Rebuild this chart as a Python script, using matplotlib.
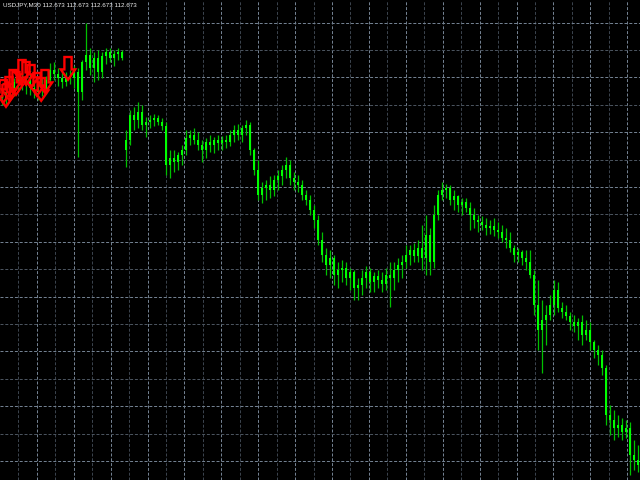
import numpy as np
import matplotlib
matplotlib.use("Agg")
import matplotlib.pyplot as plt
from matplotlib.patches import Polygon

symbol = "USDJPY,M30"
last_quote = ["112.673", "112.673", "112.673", "112.673"]

opens = [114.525, 114.510, 114.540, 114.560, 114.590, 114.610, 114.580, 114.600, 114.560, 114.540,
         114.570, 114.550, 114.600, 114.650, 114.630, 114.610, 114.590, 114.620, 114.610, 114.640,
         114.540, 114.690, 114.725, 114.660, 114.710, 114.640, 114.720, 114.740, 114.710, 114.730,
         114.740, 114.250, 114.300, 114.425, 114.400, 114.440, 114.375, 114.390, 114.400, 114.410,
         114.390, 114.370, 114.175, 114.210, 114.190, 114.225, 114.250, 114.310, 114.325, 114.300,
         114.275, 114.250, 114.290, 114.275, 114.300, 114.285, 114.300, 114.290, 114.325, 114.350,
         114.325, 114.360, 114.375, 114.250, 114.150, 114.025, 114.060, 114.075, 114.050, 114.100,
         114.120, 114.150, 114.175, 114.110, 114.090, 114.075, 114.025, 114.000, 113.950, 113.900,
         113.800, 113.725, 113.675, 113.710, 113.625, 113.650, 113.660, 113.610, 113.640, 113.560,
         113.575, 113.610, 113.640, 113.590, 113.620, 113.600, 113.580, 113.625, 113.610, 113.650,
         113.675, 113.690, 113.725, 113.750, 113.720, 113.760, 113.710, 113.825, 113.690, 113.925,
         114.025, 114.050, 114.060, 114.000, 114.020, 113.975, 113.990, 113.960, 113.925, 113.900,
         113.890, 113.875, 113.860, 113.870, 113.850, 113.840, 113.810, 113.800, 113.760, 113.725,
         113.740, 113.710, 113.690, 113.625, 113.475, 113.350, 113.400, 113.425, 113.475, 113.550,
         113.460, 113.440, 113.420, 113.390, 113.370, 113.390, 113.325, 113.350, 113.290, 113.250,
         113.225, 113.160, 112.925, 112.900, 112.860, 112.875, 112.840, 112.860, 112.725, 112.700]
highs = [114.560, 114.550, 114.575, 114.610, 114.630, 114.640, 114.620, 114.630, 114.600, 114.590,
         114.610, 114.620, 114.685, 114.690, 114.660, 114.650, 114.640, 114.650, 114.670, 114.660,
         114.700, 114.885, 114.760, 114.740, 114.750, 114.740, 114.760, 114.760, 114.750, 114.760,
         114.750, 114.350, 114.450, 114.465, 114.490, 114.475, 114.415, 114.425, 114.430, 114.425,
         114.410, 114.390, 114.250, 114.250, 114.240, 114.275, 114.350, 114.350, 114.360, 114.340,
         114.300, 114.310, 114.325, 114.315, 114.325, 114.320, 114.325, 114.350, 114.375, 114.380,
         114.375, 114.400, 114.390, 114.260, 114.200, 114.090, 114.100, 114.120, 114.125, 114.150,
         114.175, 114.215, 114.200, 114.140, 114.125, 114.100, 114.050, 114.025, 113.975, 113.925,
         113.840, 113.760, 113.750, 113.725, 113.690, 113.700, 113.690, 113.660, 113.650, 113.610,
         113.650, 113.670, 113.660, 113.640, 113.650, 113.640, 113.660, 113.690, 113.690, 113.710,
         113.725, 113.775, 113.775, 113.785, 113.800, 113.875, 113.925, 113.860, 113.975, 114.050,
         114.090, 114.080, 114.075, 114.050, 114.025, 114.010, 114.010, 113.990, 113.960, 113.925,
         113.920, 113.910, 113.900, 113.910, 113.890, 113.875, 113.860, 113.840, 113.775, 113.760,
         113.750, 113.750, 113.750, 113.650, 113.600, 113.500, 113.475, 113.525, 113.600, 113.590,
         113.490, 113.475, 113.440, 113.425, 113.410, 113.425, 113.400, 113.390, 113.300, 113.275,
         113.250, 113.175, 112.975, 112.950, 112.925, 112.910, 112.900, 112.890, 112.800, 112.775]
lows = [114.475, 114.480, 114.500, 114.520, 114.540, 114.550, 114.530, 114.525, 114.510, 114.500,
        114.520, 114.530, 114.580, 114.600, 114.570, 114.560, 114.570, 114.580, 114.560, 114.215,
        114.500, 114.650, 114.625, 114.590, 114.600, 114.610, 114.680, 114.690, 114.670, 114.700,
        114.700, 114.165, 114.275, 114.350, 114.360, 114.350, 114.315, 114.360, 114.370, 114.375,
        114.350, 114.125, 114.110, 114.140, 114.150, 114.175, 114.225, 114.275, 114.280, 114.250,
        114.190, 114.210, 114.240, 114.235, 114.250, 114.250, 114.260, 114.270, 114.290, 114.300,
        114.290, 114.325, 114.225, 114.125, 114.000, 113.985, 114.000, 114.010, 114.020, 114.050,
        114.075, 114.110, 114.075, 114.050, 114.040, 114.000, 113.975, 113.925, 113.860, 113.775,
        113.690, 113.625, 113.610, 113.575, 113.560, 113.590, 113.575, 113.550, 113.500, 113.500,
        113.525, 113.560, 113.540, 113.540, 113.560, 113.540, 113.550, 113.465, 113.550, 113.590,
        113.610, 113.660, 113.675, 113.690, 113.690, 113.650, 113.625, 113.625, 113.660, 113.900,
        114.000, 114.010, 113.975, 113.950, 113.940, 113.925, 113.940, 113.850, 113.860, 113.840,
        113.850, 113.825, 113.830, 113.820, 113.810, 113.790, 113.760, 113.740, 113.690, 113.690,
        113.675, 113.650, 113.610, 113.425, 113.250, 113.135, 113.275, 113.400, 113.425, 113.440,
        113.410, 113.400, 113.350, 113.340, 113.300, 113.275, 113.300, 113.250, 113.210, 113.175,
        113.125, 112.875, 112.825, 112.800, 112.815, 112.800, 112.810, 112.625, 112.650, 112.640]
closes = [114.510, 114.540, 114.560, 114.590, 114.610, 114.580, 114.600, 114.560, 114.540, 114.570,
          114.550, 114.600, 114.650, 114.630, 114.610, 114.590, 114.620, 114.610, 114.640, 114.540,
          114.690, 114.725, 114.660, 114.710, 114.640, 114.720, 114.740, 114.710, 114.730, 114.740,
          114.710, 114.300, 114.425, 114.400, 114.440, 114.375, 114.390, 114.400, 114.410, 114.390,
          114.370, 114.175, 114.210, 114.190, 114.225, 114.250, 114.310, 114.325, 114.300, 114.275,
          114.250, 114.290, 114.275, 114.300, 114.285, 114.300, 114.290, 114.325, 114.350, 114.325,
          114.360, 114.375, 114.250, 114.150, 114.025, 114.060, 114.075, 114.050, 114.100, 114.120,
          114.150, 114.175, 114.110, 114.090, 114.075, 114.025, 114.000, 113.950, 113.900, 113.800,
          113.725, 113.675, 113.710, 113.625, 113.650, 113.660, 113.610, 113.640, 113.560, 113.575,
          113.610, 113.640, 113.590, 113.620, 113.600, 113.580, 113.625, 113.610, 113.650, 113.675,
          113.690, 113.725, 113.750, 113.720, 113.760, 113.710, 113.825, 113.690, 113.925, 114.025,
          114.050, 114.060, 114.000, 114.020, 113.975, 113.990, 113.960, 113.925, 113.900, 113.890,
          113.875, 113.860, 113.870, 113.850, 113.840, 113.810, 113.800, 113.760, 113.725, 113.740,
          113.710, 113.690, 113.625, 113.475, 113.350, 113.400, 113.425, 113.475, 113.550, 113.460,
          113.440, 113.420, 113.390, 113.370, 113.390, 113.325, 113.350, 113.290, 113.250, 113.225,
          113.160, 112.925, 112.900, 112.860, 112.875, 112.840, 112.860, 112.725, 112.700, 112.675]

# sell arrows from the indicator (bar position, price at top of arrow)
arrow_bar = [0.3, 1.0, 1.75, 2.8, 3.5, 5.0, 6.0, 7.25, 8.75, 9.8, 10.75, 16.5]
arrow_price = [114.600, 114.580, 114.615, 114.650, 114.640, 114.700, 114.690, 114.675,
               114.635, 114.610, 114.650, 114.715]

# grid levels
grid_x = 4.1 + 4.6125 * np.arange(35)
grid_y = 114.8875 - 0.137 * np.arange(17)


def down_arrow(xc, ytop):
    ws, wh = 1.8, 3.6
    hs, hh = 0.062, 0.052
    pts = [(xc - ws / 2, ytop), (xc + ws / 2, ytop), (xc + ws / 2, ytop - hs),
           (xc + wh / 2, ytop - hs), (xc, ytop - hs - hh), (xc - wh / 2, ytop - hs),
           (xc - ws / 2, ytop - hs)]
    return Polygon(pts, closed=True, fill=False, edgecolor="#ff0000", lw=1.7,
                   joinstyle="miter", zorder=5)


fig = plt.figure(figsize=(6.4, 4.8), dpi=100)
fig.patch.set_facecolor("black")
ax = fig.add_axes([0, 0, 1, 1])
ax.set_facecolor("black")

n = len(closes)
xs = np.arange(n)
o = np.array(opens)
c = np.array(closes)

for k, gx in enumerate(grid_x):
    col = "#728090" if k % 2 else "#3a424c"
    ax.axvline(gx, color=col, lw=0.72, dashes=(3, 1.8), zorder=0)
for k, gy in enumerate(grid_y):
    col = "#728090" if k % 2 == 0 else "#4a535e"
    ax.axhline(gy, color=col, lw=0.72, dashes=(3, 1.8), zorder=0)

ax.vlines(xs, lows, highs, color="#00c000", lw=0.9, zorder=2)
body = np.where(np.abs(c - o) < 0.004, 0.004, c - o)
ax.bar(xs, body, bottom=o, width=0.7, color="#00ff00", lw=0, zorder=3)

for xb, yp in zip(arrow_bar, arrow_price):
    ax.add_patch(down_arrow(xb, yp))

ax.set_xlim(-0.5, n - 0.5)
ax.set_ylim(112.60, 115.00)
ax.axis("off")

ax.text(0.004, 0.996, symbol + " " + " ".join(last_quote), transform=ax.transAxes,
        ha="left", va="top", color="#f0f0f0", fontsize=4.5, family="Liberation Sans")

fig.savefig("out.png", dpi=100, facecolor="black")
